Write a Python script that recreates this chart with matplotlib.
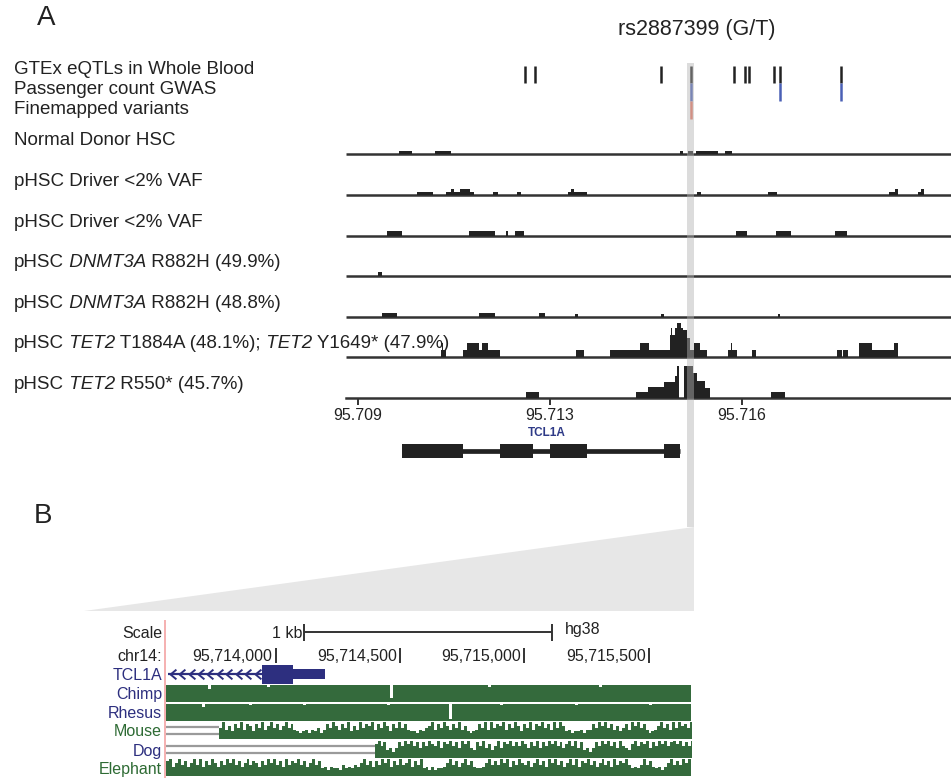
import matplotlib
matplotlib.use("Agg")
import matplotlib.pyplot as plt
from matplotlib.patches import Rectangle, Polygon
from matplotlib.path import Path
import numpy as np

plt.rcParams["font.family"] = ["Liberation Sans", "DejaVu Sans"]

W, H = 951, 778
TXT = "#222222"

# ---------------- Panel A data (positions in kb from 95.709 Mb) ----------------
origin_mb = 95.709
snp_label = "rs2887399 (G/T)"
snp_kb = 6.93
gtex_eqtl_kb = [3.479, 3.688, 6.306, 6.931, 7.827, 8.056, 8.140, 8.673, 8.792, 10.069]
gwas_kb = [6.931, 8.792, 10.069]
finemapped_kb = [6.931]
variant_row_labels = ["GTEx eQTLs in Whole Blood", "Passenger count GWAS", "Finemapped variants"]

# track labels as (text, style) pieces; gene names are italic
track_labels = [
    [("Normal Donor HSC", "normal")],
    [("pHSC Driver <2% VAF", "normal")],
    [("pHSC Driver <2% VAF", "normal")],
    [("pHSC", "normal"), (" DNMT3A", "italic"), (" R882H (49.9%)", "normal")],
    [("pHSC", "normal"), (" DNMT3A", "italic"), (" R882H (48.8%)", "normal")],
    [("pHSC", "normal"), (" TET2", "italic"), (" T1884A (48.1%);", "normal"),
     (" TET2", "italic"), (" Y1649* (47.9%)", "normal")],
    [("pHSC", "normal"), (" TET2", "italic"), (" R550* (45.7%)", "normal")],
]

# coverage segments: (start_kb, end_kb, depth)
cov_normal = [(0.854, 1.125, 3.3), (1.604, 1.938, 3.3), (6.708, 6.765, 3.3),
              (6.881, 6.973, 3.3), (7.042, 7.494, 3.3), (7.652, 7.798, 3.3)]
cov_driver1 = [(1.229, 1.563, 3), (1.833, 1.938, 3), (1.938, 1.994, 6), (1.994, 2.125, 3),
               (2.125, 2.333, 6), (2.333, 2.423, 3), (2.813, 2.910, 3), (3.319, 3.396, 3),
               (4.369, 4.438, 3), (4.438, 4.506, 6), (4.506, 4.771, 3), (7.056, 7.140, 3),
               (8.548, 8.735, 3), (11.063, 11.188, 3), (11.188, 11.250, 6),
               (11.667, 11.729, 3), (11.729, 11.792, 6)]
cov_driver2 = [(0.610, 0.910, 4.5), (2.319, 2.848, 4.5), (3.077, 3.131, 4.5), (3.271, 3.452, 4.5),
               (7.869, 8.104, 4.5), (8.715, 9.021, 4.5), (9.938, 10.188, 4.5)]
cov_dnmt3a_1 = [(0.410, 0.500, 4)]
cov_dnmt3a_2 = [(0.506, 0.806, 4), (2.521, 2.854, 4), (3.777, 3.896, 4), (4.515, 4.577, 3),
                (6.306, 6.375, 3), (8.744, 8.792, 3)]
cov_tet2_a = [(1.729, 1.833, 6.7), (1.756, 1.777, 13.7), (2.194, 2.277, 6.7), (2.277, 2.527, 13.7),
              (2.527, 2.583, 6.7), (2.583, 2.708, 13.7), (2.708, 2.965, 6.7), (4.535, 4.708, 6.7),
              (5.256, 5.875, 6.7), (5.875, 6.069, 13.7), (6.069, 6.500, 6.7), (6.500, 6.604, 22),
              (6.531, 6.546, 28.7), (6.604, 6.652, 28.7), (6.652, 6.723, 34.3), (6.723, 6.777, 28.7),
              (6.777, 6.860, 27), (6.860, 6.917, 18.7), (6.917, 7.000, 6.7), (7.000, 7.125, 13.7),
              (7.125, 7.265, 6.7), (7.702, 7.902, 6.7), (7.781, 7.792, 13.7), (8.208, 8.292, 6.7),
              (9.985, 10.077, 6.7), (10.110, 10.202, 6.7), (10.438, 10.715, 13.7),
              (10.715, 11.167, 6.7), (11.167, 11.250, 13.7)]
cov_tet2_b = [(3.500, 3.777, 5.7), (5.792, 6.048, 5.7), (6.048, 6.375, 10.7), (6.375, 6.604, 15.7),
              (6.604, 6.652, 22.3), (6.652, 6.694, 31.7), (6.792, 6.985, 31.7), (6.985, 7.056, 25),
              (7.056, 7.229, 16.7), (7.229, 7.333, 10), (8.598, 8.896, 5.7)]
coverage_tracks = [cov_normal, cov_driver1, cov_driver2, cov_dnmt3a_1, cov_dnmt3a_2, cov_tet2_a, cov_tet2_b]

axis_ticks_kb = [0, 4, 8]
axis_tick_labels = ["95.709", "95.713", "95.716"]

gene_name = "TCL1A"
gene_exons_kb = [(0.910, 2.181), (2.958, 3.652), (4.000, 4.765), (6.375, 6.708)]

# ---------------- Panel B data (UCSC view, hg38 bp) ----------------
b_ticks_bp = [95714000, 95714500, 95715000, 95715500]
b_tick_labels = ["95,714,000", "95,714,500", "95,715,000", "95,715,500"]
scale_bar_bp = (95714116, 95715113)
b_gene_line_bp = (95713566, 95713944)
b_gene_cds_bp = (95713944, 95714068)
b_gene_utr_bp = (95714068, 95714199)
cons_species = ["Chimp", "Rhesus", "Mouse", "Dog", "Elephant"]
cons_label_colors = ["#2d2f7f", "#2d2f7f", "#2e6b34", "#2d2f7f", "#2e6b34"]
cons_bin_bp = 12
cons_start_bp = [95713559, 95713559, 95713772, 95714398, 95713559]
cons_gap_end_bp = [None, None, 95713772, 95714398, None]
cons_chimp = ("9999999999" "9999799999" "9999999999" "9999899999" "9999999999" "9999999999"
              "9999999999" "9999929999" "9999999999" "9999999999" "9999999989" "9999999999"
              "9999999999" "9999999999" "9999989999" "9999999999" "9999999999" "999999")
cons_rhesus = ("9999999999" "9979999999" "9999999989" "9999999999" "9999998999" "9999999999"
               "9999999999" "9999899999" "9999999999" "9999919999" "9999999999" "9989999999"
               "9999999999" "9999999899" "9999999999" "9999999999" "9989999999" "999999")
cons_mouse = ("6957486958" "7486957968" "5796854345" "3546358697" "5869475968" "7958697486"
              "9685443546" "7958697586" "9574345869" "5968795869" "7486958796" "8596974534"
              "4535586979" "6857468597" "9685345796" "859697869")
cons_dog = ("7968453586" "9796858697" "6958796859" "7954869574" "6958796869" "7586958697"
            "9685796958" "4535869796" "8596547968" "7958697968" "9796869")
cons_elephant = ("8957968579" "6958697586" "9796857968" "7586979685" "9687968579" "6845354436"
                 "4546579685" "8697958696" "7958694535" "3445796857" "9685445796" "8697958697"
                 "6857968597" "9685796958" "7968579685" "9687964546" "9685453579" "686979")
cons_values = [cons_chimp, cons_rhesus, cons_mouse, cons_dog, cons_elephant]

# ---------------- layout helpers ----------------
def fx(px):
    return px / W

def fy(py):
    return 1 - py / H

PX_PER_KB = 48.0
KB0_PX = 358.0

def kb_of_px(px):
    return (px - KB0_PX) / PX_PER_KB

fig = plt.figure(figsize=(W / 100, H / 100), dpi=100)
renderer = fig.canvas.get_renderer()

def rich_text(x_px, y_px, parts, **kw):
    x = x_px
    for txt, style in parts:
        t = fig.text(fx(x), fy(y_px), txt, style=style, **kw)
        x = t.get_window_extent(renderer=renderer).x1

# ---------------- Panel A ----------------
A_LEFT, A_RIGHT, A_TOP, A_BOT = 346, 951, 55, 398
axA = fig.add_axes([fx(A_LEFT), fy(A_BOT), fx(A_RIGHT - A_LEFT), (A_BOT - A_TOP) / H])
axA.set_xlim(kb_of_px(A_LEFT), kb_of_px(A_RIGHT))
axA.set_ylim(A_BOT, A_TOP)
for s in ["top", "left", "right"]:
    axA.spines[s].set_visible(False)
axA.spines["bottom"].set_color("#333333")
axA.spines["bottom"].set_linewidth(1.8)
axA.set_yticks([])
axA.set_xticks(axis_ticks_kb)
axA.set_xticklabels(axis_tick_labels)
axA.tick_params(axis="x", length=5, width=1.4, color="#333333", labelsize=11.5,
                labelcolor=TXT, pad=2)

baselines = [154, 195, 236, 276, 317, 357, 398]
for base, segs in zip(baselines, coverage_tracks):
    if base != A_BOT:
        axA.hlines(base, kb_of_px(A_LEFT), kb_of_px(A_RIGHT), color="#333333", lw=1.8, zorder=2)
    starts = np.array([s[0] for s in segs])
    ends = np.array([s[1] for s in segs])
    depth = np.array([s[2] for s in segs])
    axA.bar(starts, depth, width=ends - starts, bottom=base - depth, align="edge",
            color="#222222", linewidth=0, zorder=3)

rows = [(gtex_eqtl_kb, 66, 83, "#222222"), (gwas_kb, 83, 101, "#4a60b5"),
        (finemapped_kb, 101, 119, "#ea7560")]
for pos, y0, y1, col in rows:
    axA.vlines(pos, y0, y1, color=col, lw=1.8, zorder=3)

# labels
fig.text(fx(37), fy(18), "A", fontsize=20, color=TXT, va="center", ha="left")
fig.text(fx(697), fy(30), snp_label, fontsize=15.5, color=TXT, va="center", ha="center")
for lab, y in zip(variant_row_labels, [74, 94, 114]):
    fig.text(fx(14), fy(y), lab, fontsize=13.5, color=TXT, va="baseline", ha="left")
for parts, base in zip(track_labels, baselines):
    rich_text(14, base - 9, parts, fontsize=13.5, color=TXT, va="baseline", ha="left")

# gene model
G_TOP, G_BOT = 420, 470
axG = fig.add_axes([fx(A_LEFT), fy(G_BOT), fx(A_RIGHT - A_LEFT), (G_BOT - G_TOP) / H])
axG.set_xlim(kb_of_px(A_LEFT), kb_of_px(A_RIGHT))
axG.set_ylim(G_BOT, G_TOP)
axG.axis("off")
axG.hlines(451, gene_exons_kb[0][0], gene_exons_kb[-1][1], color="#222222", lw=3.4)
for s, e in gene_exons_kb:
    axG.add_patch(Rectangle((s, 444.3), e - s, 13.4, color="#222222", lw=0))
axG.text(np.mean([gene_exons_kb[1][1], gene_exons_kb[2][0]]) + 0.1, 433, gene_name,
         fontsize=8.5, fontweight="bold", color="#2e3a87", ha="center", va="center")

# ---------------- Panel B ----------------
fig.text(fx(34), fy(516), "B", fontsize=20, color=TXT, va="center", ha="left")

BP0, BP_PER_PX, BP_REF_PX = 95714000, 4.0225, 275.6

def bp_of_px(px):
    return BP0 + (px - BP_REF_PX) * BP_PER_PX

B_LEFT, B_RIGHT, B_TOP, B_BOT = 166, 692, 620, 778
axB = fig.add_axes([fx(B_LEFT), fy(B_BOT), fx(B_RIGHT - B_LEFT), (B_BOT - B_TOP) / H])
axB.set_xlim(bp_of_px(B_LEFT), bp_of_px(B_RIGHT))
axB.set_ylim(B_BOT, B_TOP)
axB.axis("off")

FS_B = 11.5
# scale bar
axB.hlines(632, *scale_bar_bp, color="#333333", lw=1.4)
axB.vlines(scale_bar_bp, 624, 641, color="#333333", lw=1.4)
axB.text(scale_bar_bp[0] - 10, 633, "1 kb", fontsize=FS_B, color=TXT, ha="right", va="center")
axB.text(scale_bar_bp[1] + 52, 629, "hg38", fontsize=FS_B, color=TXT, ha="left", va="center")
# coordinate ticks
axB.vlines(b_ticks_bp, 648, 663, color="#333333", lw=1.4)
for t, lab in zip(b_ticks_bp, b_tick_labels):
    axB.text(t - 12, 656, lab, fontsize=FS_B, color=TXT, ha="right", va="center")
# gene
NAVY = "#2d2f7f"
axB.hlines(674, *b_gene_line_bp, color=NAVY, lw=1.6)
chev = Path([(0.6, 1.0), (-0.6, 0.0), (0.6, -1.0)], [Path.MOVETO, Path.LINETO, Path.LINETO])
chev_x = np.arange(b_gene_line_bp[0] + 20, b_gene_cds_bp[0] - 10, 38)
axB.plot(chev_x, np.full(len(chev_x), 674), ls="none", marker=chev, ms=7, mew=1.4,
         mfc="none", mec=NAVY)
axB.add_patch(Rectangle((b_gene_cds_bp[0], 664.5), b_gene_cds_bp[1] - b_gene_cds_bp[0], 19, color=NAVY, lw=0))
axB.add_patch(Rectangle((b_gene_utr_bp[0], 669), b_gene_utr_bp[1] - b_gene_utr_bp[0], 10, color=NAVY, lw=0))

# conservation tracks
GREEN = "#346a3c"
cons_tops = [685, 703.5, 722, 740.5, 759]
CONS_H = 17
for top, vals, start, gap_end in zip(cons_tops, cons_values, cons_start_bp, cons_gap_end_bp):
    h = np.array([int(c) for c in vals]) / 9.0 * CONS_H
    x = start + cons_bin_bp * np.arange(len(vals))
    bottom = top + CONS_H
    axB.bar(x, h, width=cons_bin_bp, bottom=bottom - h, align="edge", color=GREEN, linewidth=0)
    if gap_end is not None:
        axB.hlines([top + 5, top + 12], bp_of_px(B_LEFT), gap_end, color="#9a9a9a", lw=1.6)

left_labels = ["Scale", "chr14:", "TCL1A"] + cons_species
left_colors = [TXT, TXT, NAVY] + cons_label_colors
left_y = [634, 656.5, 675, 695, 713, 732, 751.5, 769.5]
for lab, col, y in zip(left_labels, left_colors, left_y):
    fig.text(fx(162), fy(y), lab, fontsize=FS_B, color=col, ha="right", va="center")

# ---------------- overlay: SNP band and zoom wedge ----------------
axO = fig.add_axes([0, 0, 1, 1], zorder=10)
axO.set_xlim(kb_of_px(0), kb_of_px(W))
axO.set_ylim(H, 0)
axO.axis("off")
axO.patch.set_alpha(0)
band_l, band_r = snp_kb - 0.07, snp_kb + 0.07
axO.add_patch(Polygon([(kb_of_px(84), 611), (band_r, 527), (band_r, 611)], closed=True,
                      facecolor="#e7e7e7", edgecolor="none"))
axO.add_patch(Rectangle((band_l, 63), band_r - band_l, 527 - 63, facecolor=(0.70, 0.70, 0.70),
                        alpha=0.45, edgecolor="none"))
axO.vlines(kb_of_px(164.5), 620, 778, color="#f4a3a3", lw=1.2)

fig.savefig("out.png", dpi=100)
